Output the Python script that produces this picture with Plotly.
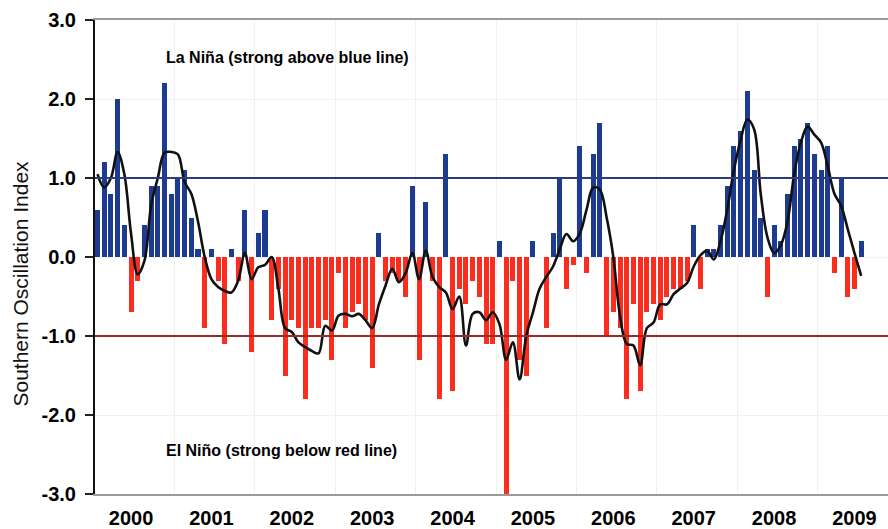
import plotly.graph_objects as go

# Monthly Southern Oscillation Index, Jan 2000 - Jul 2009
start_year = 2000
soi_monthly = [
    0.6, 1.2, 0.8, 2.0, 0.4, -0.7, -0.3, 0.4, 0.9, 0.9, 2.2, 0.8,          # 2000
    1.0, 1.1, 0.5, 0.1, -0.9, 0.1, -0.3, -1.1, 0.1, -0.3, 0.6, -1.2,       # 2001
    0.3, 0.6, -0.8, -0.4, -1.5, -0.8, -0.9, -1.8, -0.9, -0.9, -0.8, -1.3,  # 2002
    -0.2, -0.9, -0.7, -0.6, -0.8, -1.4, 0.3, -0.3, -0.2, -0.3, -0.5, 0.9,  # 2003
    -1.3, 0.7, -0.3, -1.8, 1.3, -1.7, -0.4, -0.6, -0.3, -0.5, -1.1, -1.1,  # 2004
    0.2, -3.0, -0.3, -1.3, -1.5, 0.2, 0.0, -0.9, 0.3, 1.0, -0.4, -0.1,     # 2005
    1.4, -0.2, 1.3, 1.7, -1.0, -0.7, -0.9, -1.8, -0.6, -1.7, -0.7, -0.6,   # 2006
    -0.8, -0.5, -0.4, -0.4, -0.3, 0.4, -0.4, 0.1, 0.1, 0.4, 0.9, 1.4,      # 2007
    1.6, 2.1, 1.1, 0.5, -0.5, 0.4, 0.2, 0.8, 1.4, 1.5, 1.7, 1.3,           # 2008
    1.1, 1.4, -0.2, 1.0, -0.5, -0.4, 0.2,                                  # 2009
]

# Smoothed SOI (black curve)
soi_smoothed = [
    1.05, 0.88, 1.0, 1.33, 1.05, 0.3, -0.22, -0.05, 0.65, 1.0, 1.32, 1.33,
    1.3, 0.95, 0.8, 0.45, 0.0, -0.28, -0.38, -0.43, -0.45, -0.3, 0.05, -0.28,
    -0.13, -0.1, 0.0, -0.4, -0.9, -0.95, -1.08, -1.14, -1.19, -1.22, -0.87, -0.93,
    -0.74, -0.72, -0.75, -0.72, -0.8, -0.9, -0.6, -0.36, -0.15, -0.32, -0.2, 0.05,
    -0.28, 0.08, -0.25, -0.38, -0.45, -0.66, -0.5, -1.12, -0.72, -0.7, -0.8, -0.7,
    -0.85, -1.3, -1.08, -1.55, -1.0, -0.7, -0.4, -0.25, -0.12, 0.1, 0.29, 0.2,
    0.3, 0.6, 0.88, 0.85, 0.5, 0.0, -0.75, -1.1, -1.12, -1.37, -0.9, -0.83,
    -0.6, -0.6, -0.47, -0.4, -0.33, -0.12, 0.02, 0.08, -0.03, 0.2, 0.6, 1.1,
    1.48, 1.74, 1.62, 0.8, 0.25, 0.05, 0.15, 0.45, 1.05, 1.45, 1.65, 1.55,
    1.45, 1.15, 0.8, 0.65, 0.35, 0.05, -0.24,
]

year_labels = ["2000", "2001", "2002", "2003", "2004",
               "2005", "2006", "2007", "2008", "2009"]
y_ticks = [3.0, 2.0, 1.0, 0.0, -1.0, -2.0, -3.0]
y_tick_labels = ["3.0", "2.0", "1.0", "0.0", "-1.0", "-2.0", "-3.0"]

month_index = list(range(len(soi_monthly)))
bar_colors = ["#1d3c91" if v >= 0 else "#fa2d1e" for v in soi_monthly]

# year labels sit under June of each year, faint gridlines at year boundaries
label_pos = [12 * i + 5 for i in range(len(year_labels))]
boundary_pos = [12 * i - 0.5 for i in range(1, len(year_labels) + 1)]

BASE_FONT = "Liberation Sans, Arial, sans-serif"

fig = go.Figure()

fig.add_trace(go.Bar(
    x=month_index,
    y=soi_monthly,
    width=0.75,
    marker=dict(color=bar_colors, line=dict(width=0)),
    hoverinfo="x+y",
    showlegend=False,
))

fig.add_trace(go.Scatter(
    x=month_index,
    y=soi_smoothed,
    mode="lines",
    line=dict(color="#111111", width=2.6, shape="spline", smoothing=1.0),
    showlegend=False,
))

# strong La Nina / El Nino thresholds
fig.add_shape(type="line", xref="paper", yref="y", x0=0, x1=1, y0=1.0, y1=1.0,
              line=dict(color="#2c3b7c", width=2))
fig.add_shape(type="line", xref="paper", yref="y", x0=0, x1=1, y0=-1.0, y1=-1.0,
              line=dict(color="#9a2a22", width=2))

fig.add_annotation(x=28.4, y=2.53, xref="x", yref="y",
                   text="<b>La Niña (strong above blue line)</b>",
                   showarrow=False, font=dict(family=BASE_FONT, size=16, color="#000000"))
fig.add_annotation(x=27.5, y=-2.45, xref="x", yref="y",
                   text="<b>El Niño (strong below red line)</b>",
                   showarrow=False, font=dict(family=BASE_FONT, size=16, color="#000000"))

fig.add_annotation(x=-74 / 793, y=0.444, xref="paper", yref="paper",
                   text="Southern Oscillation Index", textangle=-90,
                   showarrow=False, xanchor="center", yanchor="middle",
                   font=dict(family=BASE_FONT, size=21, color="#111111"))

fig.update_layout(
    width=888, height=529,
    margin=dict(l=95, r=0, t=20, b=32),
    paper_bgcolor="#ffffff",
    plot_bgcolor="#ffffff",
    bargap=0,
    font=dict(family=BASE_FONT, color="#000000"),
    xaxis=dict(
        range=[-0.375, 118.0],
        tickmode="array",
        tickvals=label_pos,
        ticktext=year_labels,
        tickfont=dict(family=BASE_FONT, size=20, color="#000000", weight="bold"),
        ticks="",
        showgrid=False,
        zeroline=False,
        showline=True,
        linecolor="#9a9a9a",
        linewidth=2,
        mirror=True,
        minor=dict(tickvals=boundary_pos, showgrid=True, gridcolor="#f1f1f1", gridwidth=1),
        ticklabelstandoff=5,
    ),
    yaxis=dict(
        range=[-3.0, 3.0],
        tickmode="array",
        tickvals=y_ticks,
        ticktext=y_tick_labels,
        tickfont=dict(family=BASE_FONT, size=20, color="#000000", weight="bold"),
        ticks="outside",
        ticklen=8,
        tickwidth=2,
        tickcolor="#222222",
        showgrid=True,
        gridcolor="#f1f1f1",
        zeroline=False,
        showline=True,
        linecolor="#111111",
        linewidth=2,
        ticklabelstandoff=5,
    ),
)

fig.write_html("out.html")
